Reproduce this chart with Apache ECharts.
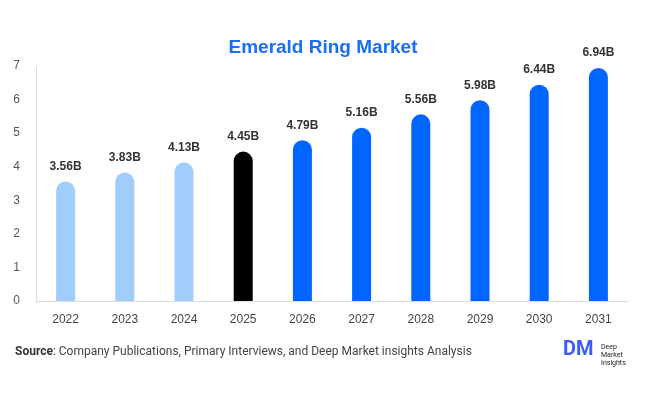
<!DOCTYPE html>
<html>
<head>
<meta charset="UTF-8">
<script src="https://cdn.jsdelivr.net/npm/echarts@6/dist/echarts.min.js"></script>
<style>
  html, body { margin: 0; padding: 0; background: #fff; }
  #chart { width: 646px; height: 394px; }
</style>
</head>
<body>
<div id="chart"></div>
<script>
// data
const years = ['2022', '2023', '2024', '2025', '2026', '2027', '2028', '2029', '2030', '2031'];
const values = [3.56, 3.83, 4.13, 4.45, 4.79, 5.16, 5.56, 5.98, 6.44, 6.94];
const barColors = ['#a1cdfd', '#a1cdfd', '#a1cdfd', '#000000', '#0066ff', '#0066ff', '#0066ff', '#0066ff', '#0066ff', '#0066ff'];

const chart = echarts.init(document.getElementById('chart'));

chart.setOption({
  animation: false,
  title: {
    text: 'Emerald Ring Market',
    left: 'center',
    top: 33,
    textStyle: { color: '#1a6ef5', fontSize: 19, fontWeight: 'bold', fontFamily: 'Liberation Sans, Arial' }
  },
  grid: { left: 36, right: 18, top: 66, bottom: 93 },
  xAxis: {
    type: 'category',
    data: years,
    axisLine: { lineStyle: { color: '#dcdcdc' } },
    axisTick: { show: false },
    axisLabel: { color: '#444', fontSize: 12, margin: 13, fontFamily: 'Liberation Sans, Arial' }
  },
  yAxis: {
    type: 'value',
    min: 0, max: 7, interval: 1,
    axisLine: { show: true, lineStyle: { color: '#dcdcdc' } },
    axisTick: { show: false },
    splitLine: { show: false },
    axisLabel: { color: '#555', fontSize: 12, margin: 16, fontFamily: 'Liberation Sans, Arial' }
  },
  series: [{
    type: 'bar',
    barWidth: 19,
    data: values.map((v, i) => ({ value: v, itemStyle: { color: barColors[i] } })),
    itemStyle: { borderRadius: [10, 10, 0, 0] },
    label: {
      show: true,
      position: 'top',
      distance: 9,
      color: '#333',
      fontSize: 12,
      fontWeight: 'bold',
      fontFamily: 'Liberation Sans, Arial',
      formatter: p => p.value.toFixed(2) + 'B'
    }
  }],
  graphic: [
    {
      type: 'text', left: 15, top: 346,
      style: {
        text: '{b|Source}: Company Publications, Primary Interviews, and Deep Market insights Analysis',
        fill: '#444', fontSize: 12, fontFamily: 'Roboto, sans-serif',
        rich: { b: { fontWeight: 'bold', fill: '#333', fontSize: 12, fontFamily: 'Roboto, sans-serif' } }
      }
    },
    {
      type: 'text', left: 563, top: 340,
      style: { text: 'DM', fill: '#3b5bfd', fontSize: 20, fontWeight: 'bold', fontFamily: 'Roboto, sans-serif' }
    },
    {
      type: 'text', left: 601, top: 343,
      style: { text: 'Deep\nMarket\nInsights', fill: '#222', fontSize: 7, lineHeight: 8, fontFamily: 'Roboto, sans-serif' }
    }
  ]
});
</script>
</body>
</html>
